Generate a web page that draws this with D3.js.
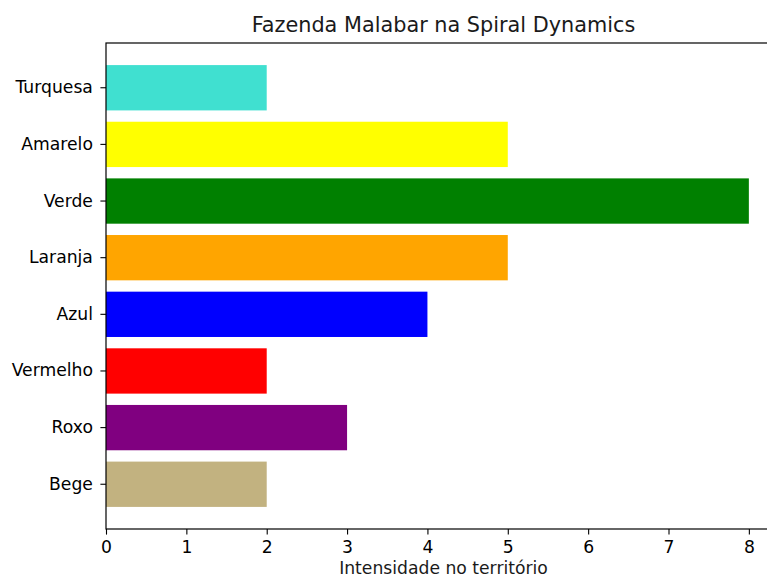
<!DOCTYPE html>
<html>
<head>
<meta charset="utf-8">
<script src="https://cdn.jsdelivr.net/npm/d3@7"></script>
<style>
  body { margin: 0; background: #fff; }
  text { font-family: "DejaVu Sans", sans-serif; fill: #000; }
</style>
</head>
<body>
<div id="chart"></div>
<script>
// data
const categories = ['Bege', 'Roxo', 'Vermelho', 'Azul', 'Laranja', 'Verde', 'Amarelo', 'Turquesa']
const values = [2, 3, 2, 4, 5, 8, 5, 2]
const colors = ['#c2b280', '#800080', '#ff0000', '#0000ff', '#ffa500', '#008000', '#ffff00', '#40e0d0']
const xTicks = [0, 1, 2, 3, 4, 5, 6, 7, 8]
const title = 'Fazenda Malabar na Spiral Dynamics'
const xLabel = 'Intensidade no território'

// consts
const width = 767, height = 580
const margin = { left: 106, top: 43, right: 781, bottom: 529 }

const svg = d3.select('#chart')
    .append('svg')
    .attr('width', width)
    .attr('height', height)

const x = d3.scaleLinear()
    .domain([0, 8.4])
    .range([margin.left, margin.right])

// bottom-to-top order, like matplotlib barh
const y = d3.scaleBand()
    .domain(categories.slice().reverse())
    .range([margin.top, margin.bottom])
    .paddingInner(0.2)
    .paddingOuter(0.39)

// bars
svg.append('g')
    .selectAll('rect')
    .data(categories)
    .enter()
    .append('rect')
    .attr('x', x(0))
    .attr('y', d => y(d))
    .attr('width', (d, i) => x(values[i]) - x(0))
    .attr('height', y.bandwidth())
    .attr('fill', (d, i) => colors[i])

// axes
const xAxis = svg.append('g')
    .attr('transform', `translate(0, ${margin.bottom})`)
    .call(d3.axisBottom(x).tickValues(xTicks).tickSize(5.6).tickPadding(6.5).tickFormat(d3.format('d')))
const yAxis = svg.append('g')
    .attr('transform', `translate(${margin.left}, 0)`)
    .call(d3.axisLeft(y).tickSize(5.6).tickPadding(7.5))

;[xAxis, yAxis].forEach(g => {
    g.select('.domain').remove()
    g.selectAll('line').attr('stroke', '#000').attr('stroke-width', 1.1)
    g.selectAll('text').style('font-size', '17.2px').style('font-family', '"DejaVu Sans", sans-serif').attr('fill', '#1a1a1a')
})

// spines
svg.append('rect')
    .attr('x', margin.left)
    .attr('y', margin.top)
    .attr('width', margin.right - margin.left)
    .attr('height', margin.bottom - margin.top)
    .attr('fill', 'none')
    .attr('stroke', '#000')
    .attr('stroke-width', 1.2)

// title + label
svg.append('text')
    .attr('x', (margin.left + margin.right) / 2)
    .attr('y', 32)
    .attr('text-anchor', 'middle')
    .style('font-size', '20.8px')
    .style('fill', '#1a1a1a')
    .text(title)

svg.append('text')
    .attr('x', (margin.left + margin.right) / 2)
    .attr('y', 574)
    .attr('text-anchor', 'middle')
    .style('font-size', '17.2px')
    .style('fill', '#1a1a1a')
    .text(xLabel)
</script>
</body>
</html>
